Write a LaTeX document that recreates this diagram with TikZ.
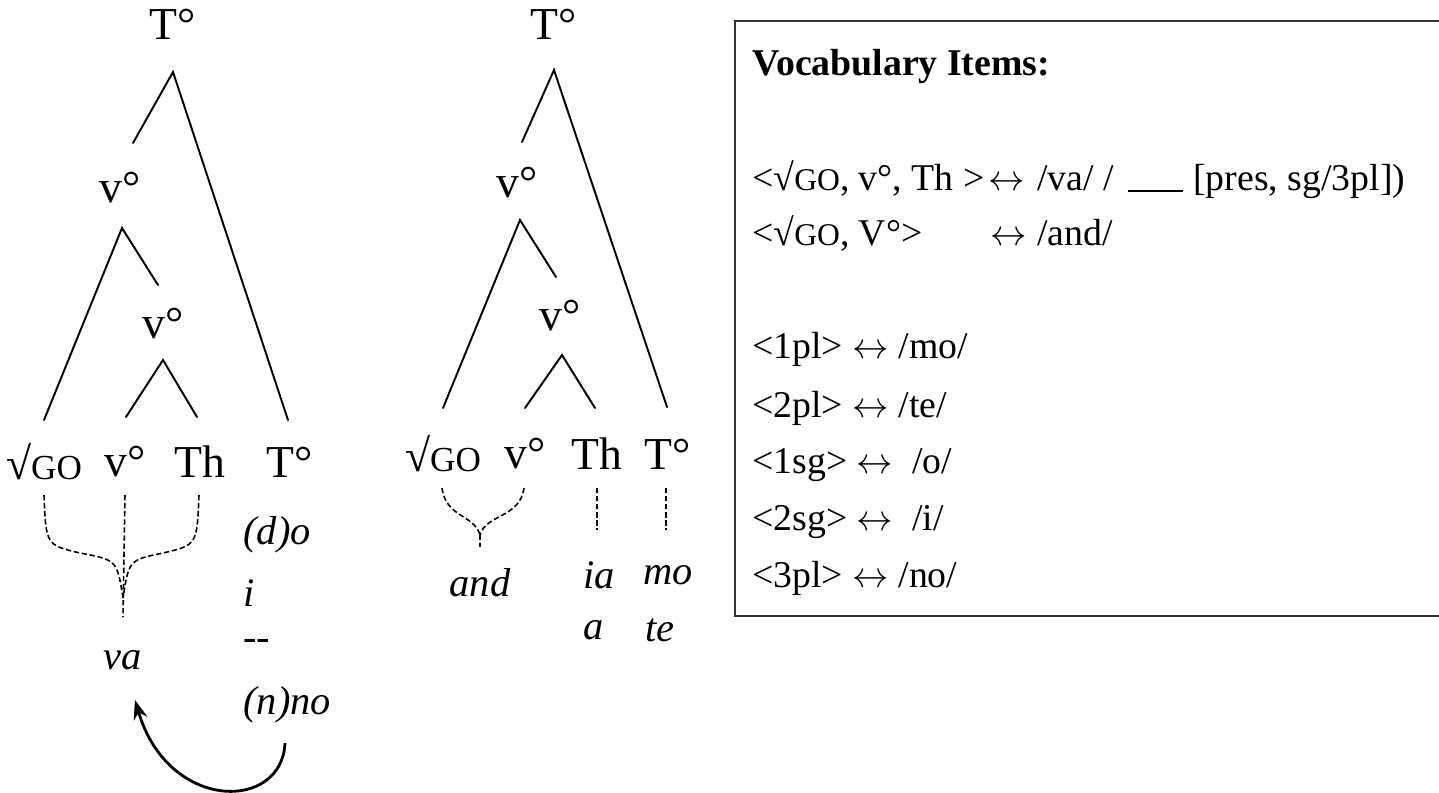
\documentclass[tikz,border=0pt]{standalone}
\usepackage{fontspec}
\setmainfont{Liberation Serif}
\usetikzlibrary{arrows.meta}
\newcommand\treefont{\fontsize{26}{30}\selectfont}
\newcommand\tgo{\fontsize{20}{24}\selectfont}
\newcommand\formfont{\fontsize{23}{28}\selectfont\itshape}
\newcommand\vifont{\fontsize{21.5}{26}\selectfont}
\newcommand\vigo{\fontsize{18}{22}\selectfont}
\newcommand\vibold{\fontsize{21.5}{26}\selectfont\bfseries}
\newcommand\lra{$\leftrightarrow$}
\begin{document}
\begin{tikzpicture}[x=0.02cm,y=-0.02cm,
  branch/.style={line width=1.1pt, line cap=round},
  link/.style={line width=0.9pt, dash pattern=on 3pt off 1.6pt},
  arr/.style={line width=1.6pt, -{Stealth[length=11pt,width=8pt]}},
  lab/.style={inner sep=0pt, font=\treefont},
  form/.style={inner sep=0pt, font=\formfont},
  formw/.style={inner sep=0pt, font=\formfont, anchor=west},
  vi/.style={inner sep=0pt, font=\vifont, anchor=base west},
  frame/.style={line width=1.3pt, draw=black!80}]
\clip (0,0) rectangle (1439,792);
\fill[white] (0,0) rectangle (1439,792);

% ---------------- Tree 1 ----------------
\node[lab] (t1top) at (173,24) {T°};
\node[lab] (t1v1) at (120,188) {v°};
\node[lab] (t1v2) at (163,324) {v°};
\node[lab] (t1go) at (44,462) {√{\tgo GO}};
\node[lab] (t1v)  at (125,462) {v°};
\node[lab] (t1th) at (200,462) {Th};
\node[lab] (t1t)  at (290,462) {T°};

\coordinate (a1) at (173,72);
\coordinate (a1l) at (133,143);
\coordinate (a1r) at (288,420);
\coordinate (a2) at (122,228);
\coordinate (a2l) at (44,420);
\coordinate (a2r) at (158,285);
\coordinate (a3) at (163,360);
\coordinate (a3l) at (126,417);
\coordinate (a3r) at (197,417);
\draw[branch] (a1l) -- (a1) -- (a1r);
\draw[branch] (a2l) -- (a2) -- (a2r);
\draw[branch] (a3l) -- (a3) -- (a3r);

\node[form] (va) at (123,660) {va};
\node[formw] (f1) at (243,535) {(d)o};
\node[formw] (f2) at (243,593) {i};
\node[formw] (f3) at (243,645) {{-}{-}};
\node[formw] (f4) at (243,705) {(n)no};

\coordinate (g1) at (44,495);
\coordinate (v1s) at (125,495);
\coordinate (h1) at (199,495);
\coordinate (m1) at (123,598);
\coordinate (m1e) at (123,617);
\draw[link] (g1) .. controls (46,545) .. (80,553) .. controls (117,560) .. (m1);
\draw[link] (h1) .. controls (197,545) .. (163,553) .. controls (129,560) .. (m1);
\draw[link] (v1s) -- (m1e);

\coordinate (arS) at (285,743);
\coordinate (arE) at (135,700);
\draw[arr] (arS) .. controls (282,812) and (168,812) .. (arE);

% ---------------- Tree 2 ----------------
\node[lab] (t2top) at (554,24) {T°};
\node[lab] (t2v1) at (517,183) {v°};
\node[lab] (t2v2) at (560,316) {v°};
\node[lab] (t2go) at (443,454) {√{\tgo GO}};
\node[lab] (t2v)  at (525,454) {v°};
\node[lab] (t2th) at (597,454) {Th};
\node[lab] (t2t)  at (668,454) {T°};

\coordinate (b1) at (554,70);
\coordinate (b1l) at (522,142);
\coordinate (b1r) at (667,407);
\coordinate (b2) at (520,220);
\coordinate (b2l) at (443,408);
\coordinate (b2r) at (556,277);
\coordinate (b3) at (562,355);
\coordinate (b3l) at (525,408);
\coordinate (b3r) at (595,408);
\draw[branch] (b1l) -- (b1) -- (b1r);
\draw[branch] (b2l) -- (b2) -- (b2r);
\draw[branch] (b3l) -- (b3) -- (b3r);

\coordinate (g2) at (442,488);
\coordinate (v2s) at (524,488);
\coordinate (m2) at (480,535);
\coordinate (m2e) at (480,547);
\draw[link] (g2) .. controls (446,518) and (474,514) .. (m2);
\draw[link] (v2s) .. controls (520,518) and (486,514) .. (m2);
\draw[link] (m2) -- (m2e);
\coordinate (th2a) at (597,488);
\coordinate (th2b) at (597,530);
\coordinate (tt2a) at (666,488);
\coordinate (tt2b) at (666,530);
\draw[link] (th2a) -- (th2b);
\draw[link] (tt2a) -- (tt2b);

\node[form] (and) at (480,583) {and};
\node[formw] (ia) at (583,575) {ia};
\node[formw] (a)  at (583,630) {a};
\node[formw] (mo) at (643,575) {mo};
\node[formw] (te) at (645,630) {te};

% ---------------- Vocabulary box ----------------
\draw[frame] (735,21) rectangle (1470,616);
\node[vi, font=\vibold] (vh) at (752,75) {Vocabulary Items:};
\node[vi] (l1a) at (752,190) {<√{\vigo GO}, v°, Th >};
\node[vi] (l1b) at (988,190) {\lra};
\node[vi] (l1c) at (1037,190) {/va/ /};
\coordinate (u1) at (1128,191);
\coordinate (u2) at (1183,191);
\draw[line width=1.4pt] (u1) -- (u2);
\node[vi] (l1d) at (1193,190) {[pres, sg/3pl])};
\node[vi] (l2a) at (752,245) {<√{\vigo GO}, V°>};
\node[vi] (l2b) at (990,245) {\lra};
\node[vi] (l2c) at (1037,245) {/and/};

\node[vi] (r1) at (752,358) {<1pl> \lra{} /mo/};
\node[vi] (r2) at (752,417) {<2pl> \lra{} /te/};
\node[vi] (r3) at (752,473) {<1sg> \lra{} \ /o/};
\node[vi] (r4) at (752,530) {<2sg> \lra{} \ /i/};
\node[vi] (r5) at (752,587) {<3pl> \lra{} /no/};
\end{tikzpicture}
\end{document}
